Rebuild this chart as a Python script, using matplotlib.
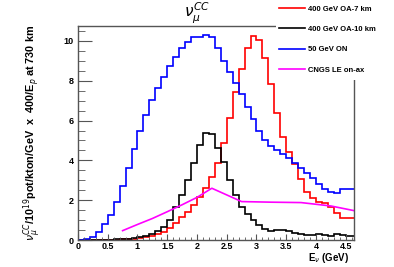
import numpy as np
import matplotlib
matplotlib.use("Agg")
import matplotlib.pyplot as plt
from matplotlib.lines import Line2D
from matplotlib.patches import Rectangle
from matplotlib.ticker import MultipleLocator, FuncFormatter

# bin edges, 0.1 GeV wide
edges = np.round(np.linspace(0.0, 4.7, 48), 2)

oa7 = [0, 0, 0, 0.005, 0.01, 0.01, 0.02, 0.03, 0.05, 0.07,
       0.10, 0.14, 0.20, 0.30, 0.42, 0.60, 0.84, 1.14, 1.43, 1.78,
       2.18, 2.60, 3.18, 3.88, 4.86, 6.11, 7.45, 8.57, 9.63, 10.25,
       10.05, 9.13, 7.82, 6.37, 5.19, 4.44, 3.80, 3.07, 2.43, 2.13,
       1.93, 1.84, 1.67, 1.34, 1.12, 1.12, 1.12]

oa10 = [0, 0, 0.01, 0.01, 0.02, 0.02, 0.03, 0.05, 0.07, 0.10,
        0.15, 0.22, 0.32, 0.45, 0.65, 1.00, 1.64, 2.26, 3.00, 3.85,
        4.77, 5.38, 5.33, 4.60, 3.90, 3.00, 2.26, 1.64, 1.29, 1.00,
        0.75, 0.55, 0.45, 0.50, 0.50, 0.45, 0.37, 0.30, 0.25, 0.25,
        0.30, 0.25, 0.20, 0.28, 0.24, 0.22, 0.18]

on50 = [0.02, 0.03, 0.17, 0.40, 0.79, 1.26, 1.91, 2.71, 3.63, 4.59,
        5.46, 6.28, 7.03, 7.62, 8.17, 8.72, 9.21, 9.63, 9.96, 10.18,
        10.22, 10.28, 10.18, 9.63, 9.01, 8.46, 7.87, 7.34, 6.67, 6.08,
        5.50, 5.03, 4.74, 4.52, 4.31, 4.10, 3.85, 3.60, 3.35, 3.10,
        2.81, 2.55, 2.43, 2.38, 2.55, 2.58, 2.58]

cngs_e = [0.75, 1.0, 1.25, 1.5, 1.75, 2.0, 2.25, 2.75, 3.25, 3.75, 4.25, 4.65]
cngs_v = [0.47, 0.78, 1.08, 1.42, 1.77, 2.14, 2.6, 1.93, 1.90, 1.88, 1.71, 1.47]

labels = ["400 GeV OA-7 km", "400 GeV OA-10 km", "50 GeV ON", "CNGS LE on-ax"]
colors = ["#ff0000", "#000000", "#0000ff", "#ff00ff"]

W, H = 394, 267
fig = plt.figure(figsize=(W / 100, H / 100), dpi=100)
ax = fig.add_axes([78 / W, 1 - 240 / H, (354 - 78) / W, (240 - 26) / H])

for vals, c in zip([oa7, oa10, on50], colors[:3]):
    ax.stairs(vals, edges, color=c, lw=1.2, baseline=None)
ax.plot(cngs_e, cngs_v, color=colors[3], lw=1.2)

ax.set_xlim(0, 4.64)
ax.set_ylim(0, 10.75)

frame = "#555555"
for s in ax.spines.values():
    s.set_color(frame)
    s.set_linewidth(1.0)

ax.xaxis.set_major_locator(MultipleLocator(0.5))
ax.xaxis.set_minor_locator(MultipleLocator(0.1))
ax.yaxis.set_major_locator(MultipleLocator(2))
ax.yaxis.set_minor_locator(MultipleLocator(0.5))
ax.xaxis.set_major_formatter(FuncFormatter(lambda v, p: "%g" % v))
ax.tick_params(axis="x", which="major", direction="in", length=4, color=frame, pad=1.5)
ax.tick_params(axis="x", which="minor", direction="in", length=2, color=frame)
ax.tick_params(axis="y", which="major", direction="in", length=10, color=frame, pad=3)
ax.tick_params(axis="y", which="minor", direction="in", length=5, color=frame)
for lab in ax.get_xticklabels() + ax.get_yticklabels():
    lab.set_fontsize(6.5)
    lab.set_fontweight("bold")
    lab.set_family("Liberation Sans")

fig.text(0.5, 1 - 13 / H, r"$\nu_{\mu}^{CC}$", ha="center", va="center", fontsize=11)

fig.text(33 / W, 1 - 25 / H,
         r"$\nu_{\mu}^{CC}$/10$^{19}$pot/kton/GeV  x  400/E$_{p}$ at 730 km",
         rotation=90, ha="center", va="top", fontsize=7.8, fontweight="bold",
         family="Liberation Sans")

fig.text(349 / W, 1 - 258 / H, r"E$_{\nu}$ (GeV)", ha="right", va="center",
         fontsize=7, fontweight="bold", family="Liberation Sans")

# legend box covering the top-right corner of the frame
fig.patches.append(Rectangle((276 / W, 1 - 80 / H), 1, 80 / H,
                             transform=fig.transFigure, facecolor="white",
                             edgecolor="none", zorder=5))
handles = [Line2D([], [], color=c, lw=1.2) for c in colors]
leg = fig.legend(handles, labels, loc="upper left",
                 bbox_to_anchor=(274 / W, 1.0), frameon=False,
                 prop={"family": "Liberation Sans", "weight": "bold", "size": 5.5},
                 handlelength=3.4, handletextpad=0.4, labelspacing=1.7,
                 borderaxespad=0.3)
leg.set_zorder(6)

fig.savefig("out.png", dpi=100)
